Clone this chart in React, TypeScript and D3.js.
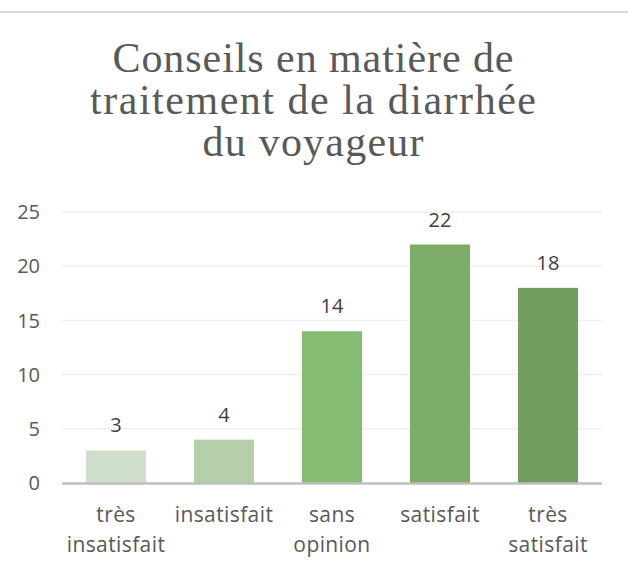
import React from "react";
import * as d3 from "d3";

const categories = [["très", "insatisfait"], ["insatisfait"], ["sans", "opinion"], ["satisfait"], ["très", "satisfait"]];
const values = [3, 4, 14, 22, 18];
const colors = ["#d0dfcc", "#b5cfab", "#86bb72", "#7dac6a", "#729e62"];
const yTicks = [0, 5, 10, 15, 20, 25];
const titleLines = ["Conseils en matière de", "traitement de la diarrhée", "du voyageur"];
const titleWidths = [401, 446, 221];

export default function App() {
  const W = 628, H = 570;
  const x = d3.scaleBand<number>().domain(d3.range(values.length)).range([62, 602]).paddingInner(0.444).paddingOuter(0.222);
  const y = d3.scaleLinear().domain([0, 25]).range([483, 212]);
  const sans = "'Open Sans', sans-serif";
  return (
    <svg width={W} height={H} style={{ position: "absolute", left: 0, top: 0 }}>
      <rect x={0} y={0} width={W} height={H} fill="#fff" />
      <line x1={0} x2={W} y1={12} y2={12} stroke="#d9d9d9" strokeWidth={2} />
      {titleLines.map((t, i) => (
        <text key={i} x={313} y={72 + i * 42} textAnchor="middle" fontFamily="'Liberation Serif', serif" fontSize={42} fill="#595959" textLength={titleWidths[i]} lengthAdjust="spacing">{t}</text>
      ))}
      {yTicks.map((t) => (
        <g key={t}>
          {t > 0 && <line x1={62} x2={602} y1={y(t)} y2={y(t)} stroke="#efefef" strokeWidth={1.5} />}
          <text x={40} y={y(t)} dy="0.36em" textAnchor="end" fontFamily={sans} fontSize={20} fill="#595959">{t}</text>
        </g>
      ))}
      {values.map((v, i) => (
        <g key={i}>
          <rect x={x(i)} y={y(v)} width={x.bandwidth()} height={y(0) - y(v)} fill={colors[i]} />
          <text x={x(i)! + x.bandwidth() / 2} y={y(v) - 18} textAnchor="middle" fontFamily={sans} fontSize={20} fill="#404040">{v}</text>
        </g>
      ))}
      <line x1={62} x2={602} y1={y(0) + 0.5} y2={y(0) + 0.5} stroke="#bfbfbf" strokeWidth={2.5} />
      {categories.map((c, i) => (
        <text key={i} textAnchor="middle" fontFamily={sans} fontSize={21} letterSpacing={0.4} fill="#595959">
          {c.map((l, j) => (
            <tspan key={j} x={x(i)! + x.bandwidth() / 2} y={522 + j * 30}>{l}</tspan>
          ))}
        </text>
      ))}
    </svg>
  );
}
